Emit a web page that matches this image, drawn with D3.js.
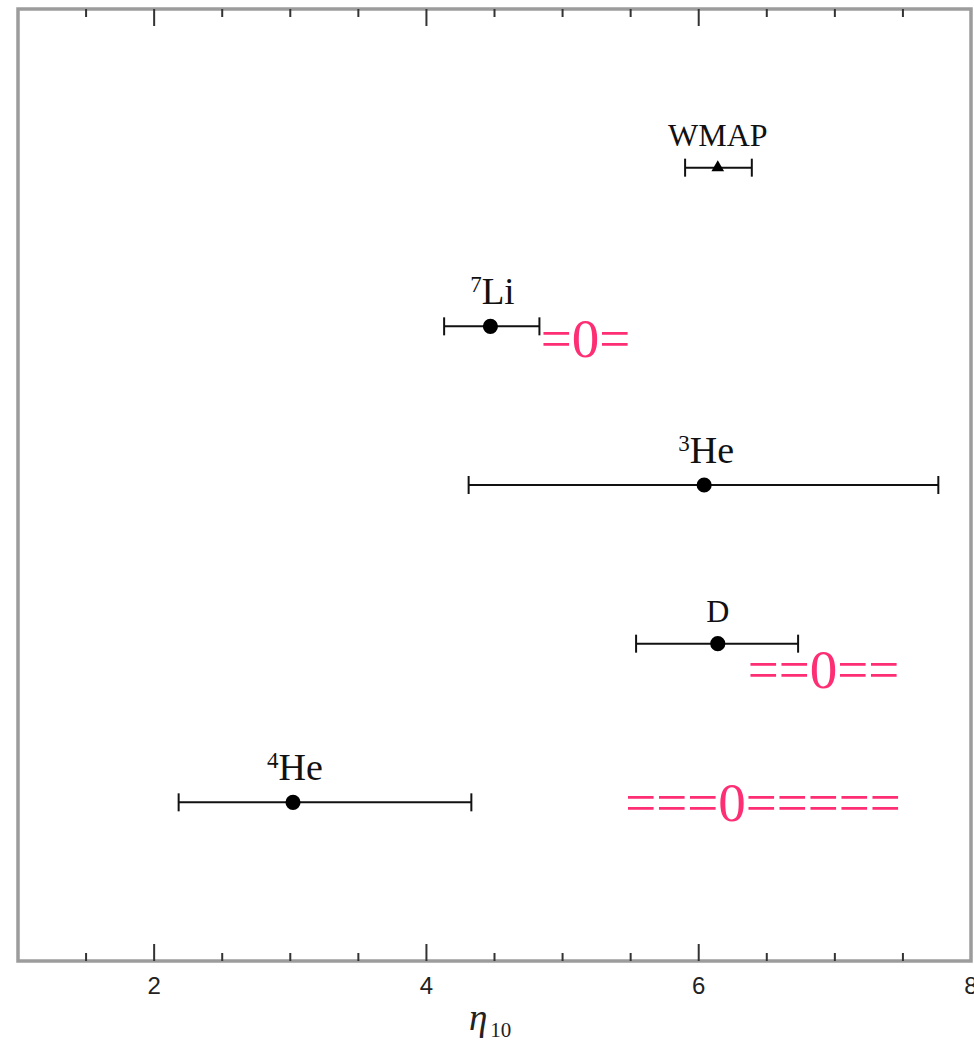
<!DOCTYPE html>
<html lang="en">
<head>
  <meta charset="UTF-8">
  <title>Baryon density from BBN abundances</title>
  <style>
    body { margin: 0; background: #fff; }
    .tick-label { font-family: "Liberation Sans", sans-serif; font-size: 24px; fill: #222; }
    .species { font-family: "Liberation Serif", serif; fill: #111; }
    .note { font-family: "Liberation Serif", serif; font-size: 55px; fill: #fe2e74; }
  </style>
</head>
<body>
  <script src="https://d3js.org/d3.v7.min.js"></script>
  <script>
    // abundances, top to bottom
    const labelMain = ["WMAP", "Li", "He", "D", "He"];
    const labelSup  = ["",     "7",  "3",  "",  "4"];
    const rows      = [5, 4, 3, 2, 1];
    const eta       = [6.14, 4.47, 6.04, 6.14, 3.02];
    const etaLow    = [5.90, 4.13, 4.31, 5.54, 2.18];
    const etaHigh   = [6.39, 4.83, 7.76, 6.73, 4.33];
    const marker    = ["triangle", "circle", "circle", "circle", "circle"];

    const majorTicks = [2, 4, 6, 8];
    const minorTicks = [1.5, 2.5, 3, 3.5, 4.5, 5, 5.5, 6.5, 7, 7.5];

    // pink overlaid notes
    const noteText = ["=0=", "==0==", "===0====="];
    const noteEta  = [4.84, 6.36, 5.46];
    const noteRow  = [3.806, 1.72, 0.882];

    // label font size per label text (the original mixes sizes)
    const labelFont = { WMAP: 32, D: 32, Li: 37, He: 38 };

    const W = 974, H = 1042;
    const padL = 18, padR = 971, padT = 9, padB = 961;

    const x = d3.scaleLinear().domain([1, 8]).range([padL, padR]);
    const y = d3.scaleLinear().domain([0, 6]).range([padB, padT]);

    const svg = d3.select('body').append('svg')
      .attr('width', W)
      .attr('height', H);

    // frame
    svg.append('rect')
      .attr('x', padL).attr('y', padT)
      .attr('width', padR - padL).attr('height', padB - padT)
      .attr('fill', 'none')
      .attr('stroke', '#9c9c9c')
      .attr('stroke-width', 3.5);

    // ticks on bottom and top, pointing inwards
    const tickG = svg.append('g').attr('stroke', '#333').attr('stroke-width', 2);
    [[majorTicks, 17], [minorTicks, 8]].forEach(([ticks, len]) => {
      tickG.selectAll(null).data(ticks.filter(t => t < 8)).enter().append('line')
        .attr('x1', d => x(d)).attr('x2', d => x(d))
        .attr('y1', padB).attr('y2', padB - len);
      tickG.selectAll(null).data(ticks.filter(t => t < 8)).enter().append('line')
        .attr('x1', d => x(d)).attr('x2', d => x(d))
        .attr('y1', padT).attr('y2', padT + len);
    });

    svg.selectAll('.tick-label').data(majorTicks).enter().append('text')
      .attr('class', 'tick-label')
      .attr('x', d => x(d))
      .attr('y', padB + 33)
      .attr('text-anchor', 'middle')
      .text(d => d);

    // axis title: eta_10
    const title = svg.append('text')
      .attr('x', 469).attr('y', 1030)
      .attr('font-family', '"Liberation Serif", serif')
      .attr('fill', '#222');
    title.append('tspan').attr('font-style', 'italic').attr('font-size', 37).text('η');
    title.append('tspan').attr('font-size', 21).attr('dy', 7).attr('dx', 3).text('10');

    const idx = d3.range(labelMain.length);

    // error bars
    const bars = svg.append('g').attr('stroke', '#111').attr('stroke-width', 2);
    bars.selectAll('.bar').data(idx).enter().append('line')
      .attr('x1', i => x(etaLow[i])).attr('x2', i => x(etaHigh[i]))
      .attr('y1', i => y(rows[i])).attr('y2', i => y(rows[i]));
    bars.selectAll('.capL').data(idx).enter().append('line')
      .attr('x1', i => x(etaLow[i])).attr('x2', i => x(etaLow[i]))
      .attr('y1', i => y(rows[i]) - 9).attr('y2', i => y(rows[i]) + 9);
    bars.selectAll('.capR').data(idx).enter().append('line')
      .attr('x1', i => x(etaHigh[i])).attr('x2', i => x(etaHigh[i]))
      .attr('y1', i => y(rows[i]) - 9).attr('y2', i => y(rows[i]) + 9);

    // markers
    svg.selectAll('.pt').data(idx).enter().append('path')
      .attr('transform', i => `translate(${x(eta[i])},${y(rows[i])})`)
      .attr('d', i => marker[i] === 'triangle'
        ? d3.symbol(d3.symbolTriangle, 70)()
        : d3.symbol(d3.symbolCircle, 180)())
      .attr('fill', '#000');

    // species labels
    const lab = svg.selectAll('.species').data(idx).enter().append('text')
      .attr('class', 'species')
      .attr('x', i => x(eta[i]) + (labelSup[i] ? 4 : 0))
      .attr('y', i => y(rows[i]) - 22)
      .attr('font-size', i => labelFont[labelMain[i]])
      .attr('text-anchor', 'middle');
    lab.append('tspan')
      .attr('font-size', 23)
      .attr('dy', -12)
      .attr('dx', -2)
      .text(i => labelSup[i]);
    lab.append('tspan')
      .attr('dy', i => labelSup[i] ? 12 : 0)
      .text(i => labelMain[i]);

    // pink notes
    svg.selectAll('.note').data(noteText).enter().append('text')
      .attr('class', 'note')
      .attr('x', (d, i) => x(noteEta[i]))
      .attr('y', (d, i) => y(noteRow[i]))
      .text(d => d);
  </script>
</body>
</html>
